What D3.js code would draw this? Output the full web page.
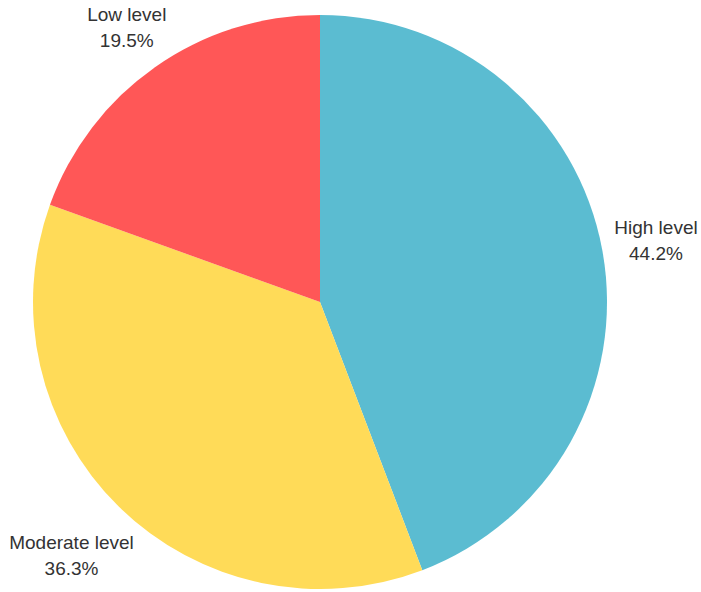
<!DOCTYPE html>
<html>
<head>
<meta charset="utf-8">
<script src="https://cdn.jsdelivr.net/npm/d3@7"></script>
<style>
  html, body { margin: 0; padding: 0; background: #ffffff; }
  svg { display: block; }
  text { font-family: "Liberation Sans", Arial, sans-serif; }
</style>
</head>
<body>
<div id="chart"></div>
<script>
// Share of respondents by level
const categories = ["High level", "Moderate level", "Low level"];
const shares = [44.2, 36.3, 19.5];
const colors = ["#5bbcd1", "#ffdb58", "#ff5757"];

const width = 701, height = 592;
const cx = 320, cy = 302, radius = 287;
const labelGap = 297;      // distance from centre to the near edge of a label block
const fontSize = 19, lineHeight = 26;

const svg = d3.select("#chart").append("svg")
  .attr("width", width)
  .attr("height", height);

const g = svg.append("g").attr("transform", `translate(${cx},${cy})`);

const data = categories.map((c, i) => ({ name: c, value: shares[i], color: colors[i] }));

const pie = d3.pie()
  .value(d => d.value)
  .sort(null)
  .startAngle(0)
  .endAngle(2 * Math.PI);

const arc = d3.arc().innerRadius(0).outerRadius(radius);

const arcs = pie(data);

g.selectAll("path.slice")
  .data(arcs)
  .join("path")
  .attr("class", "slice")
  .attr("d", arc)
  .attr("fill", d => d.data.color);

// Labels: two centred lines, pushed out along the mid-angle until the block clears the pie
const labels = g.selectAll("g.label")
  .data(arcs)
  .join("g")
  .attr("class", "label");

labels.each(function (d) {
  const sel = d3.select(this);
  const t = sel.append("text")
    .attr("text-anchor", "middle")
    .attr("fill", "#333333")
    .attr("font-size", fontSize);
  t.append("tspan").attr("x", 0).attr("y", 0).text(d.data.name);
  t.append("tspan").attr("x", 0).attr("y", lineHeight).text(d3.format(".1f")(d.data.value) + "%");

  const capH = fontSize * 0.716;
  const blockH = lineHeight + capH;          // cap top of line 1 to baseline of line 2
  const blockW = t.node().getBBox().width;
  const mid = (d.startAngle + d.endAngle) / 2;
  const s = Math.sin(mid), c = -Math.cos(mid);
  const r = labelGap + Math.abs(s) * blockW / 2 + Math.abs(c) * blockH / 2;
  const x = s * r;
  const y = c * r;
  // shift so that the block's vertical centre sits at (x, y)
  const top = -capH;
  const yOff = y - (top + blockH / 2);
  sel.attr("transform", `translate(${x},${yOff})`);
});
</script>
</body>
</html>
